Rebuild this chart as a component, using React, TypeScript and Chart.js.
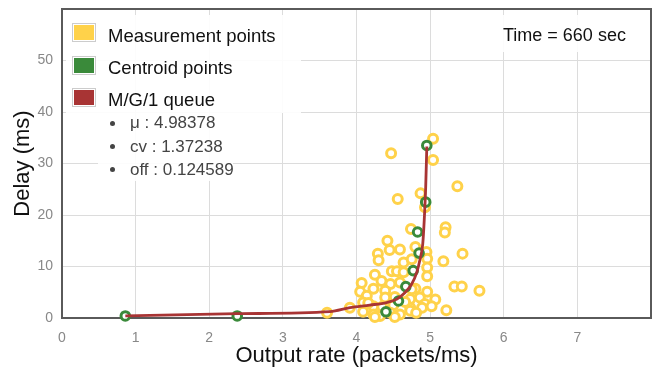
import React, { useEffect, useRef } from "react";
import { Chart, registerables } from "chart.js";

Chart.register(...registerables);

// ---- data ----
const measurementX = [
  5.04, 4.47, 5.04, 5.37, 4.87, 4.56, 4.93, 4.74, 5.21, 5.2, 4.42, 4.45, 4.59, 4.29, 4.8, 4.95,
  5.44, 4.3, 4.64, 4.75, 4.96, 5.18, 4.96, 4.25, 4.48, 4.55, 4.64, 4.96, 4.07, 4.34, 4.46, 4.59,
  4.05, 4.23, 4.39, 4.8, 4.96, 5.33, 5.43, 5.67, 4.14, 4.39, 4.73, 4.86, 5.07, 3.91, 4.23, 4.5,
  4.73, 4.93, 5.02, 4.09, 4.23, 4.32, 4.46, 4.59, 4.73, 4.89, 5.22, 4.25, 3.6, 4.75, 4.09, 4.52,
  4.66, 4.81, 4.35, 4.52, 4.16,
];
const measurementY = [
  34.8, 32.0, 30.7, 25.6, 24.2, 23.1, 21.5, 17.3, 17.6, 16.6, 15.0, 13.2, 13.3, 12.5, 13.8, 12.8,
  12.5, 11.2, 10.8, 11.4, 11.5, 11.0, 9.8, 8.4, 9.1, 9.1, 8.9, 8.1, 6.8, 7.2, 6.6, 6.9,
  5.1, 5.7, 5.3, 5.7, 5.1, 6.1, 6.1, 5.3, 4.3, 4.0, 3.7, 4.0, 3.6, 2.0, 2.3, 2.5,
  2.0, 2.7, 2.3, 1.2, 0.7, 0.4, 1.0, 0.7, 1.4, 2.0, 1.5, 0.2, 1.0, 5.6, 3.0, 4.1,
  3.1, 1.0, 2.2, 0.2, 2.9,
];
const centroidX = [0.86, 2.38, 4.4, 4.57, 4.67, 4.77, 4.85, 4.83, 4.94, 4.955];
const centroidY = [0.4, 0.4, 1.2, 3.3, 6.1, 9.2, 12.6, 16.7, 22.5, 33.5];
const queueX = [0.86, 2.38, 3.64, 3.91, 4.18, 4.41, 4.55, 4.66, 4.75, 4.82, 4.86, 4.9, 4.92, 4.94, 4.955];
const queueY = [0.4, 0.84, 1.23, 2.0, 2.5, 3.0, 3.7, 4.95, 6.6, 8.9, 11.2, 14.4, 19.0, 25.5, 33.3];

const xMin = 0;
const xMax = 8;
const xStep = 1;
const yMin = 0;
const yMax = 60;
const yStep = 10;

const legendLabels = ["Measurement points", "Centroid points", "M/G/1 queue"];
const legendColors = ["#ffd24a", "#3a8a3a", "#a83434"];
const queueParams = ["\u03bc : 4.98378", "cv : 1.37238", "off : 0.124589"];
const timeLabel = "Time = 660 sec";
const xTitle = "Output rate (packets/ms)";
const yTitle = "Delay (ms)";

const FONT = "'Liberation Sans', Arial, Helvetica, sans-serif";

const toPoints = (xs: number[], ys: number[]) => xs.map((x, i) => ({ x, y: ys[i] }));

const borderPlugin = {
  id: "plotBorder",
  beforeDatasetsDraw(chart: any) {
    const { ctx, chartArea } = chart;
    const { left, top, right, bottom } = chartArea;
    ctx.save();
    ctx.strokeStyle = "#5a5a5a";
    ctx.lineWidth = 2;
    ctx.strokeRect(left, top, right - left, bottom - top);
    ctx.restore();
  },
};

const zeroPad = (scale: any) => {
  scale.paddingTop = 0;
  scale.paddingBottom = 0;
  scale.paddingLeft = 0;
  scale.paddingRight = 0;
};

export default function App() {
  const canvasRef = useRef<HTMLCanvasElement | null>(null);

  useEffect(() => {
    if (!canvasRef.current) return;
    const chart = new Chart(canvasRef.current, {
      type: "scatter",
      data: {
        datasets: [
          {
            label: legendLabels[2],
            type: "line",
            data: toPoints(queueX, queueY),
            borderColor: legendColors[2],
            borderWidth: 2.8,
            pointRadius: 0,
            showLine: true,
            fill: false,
            cubicInterpolationMode: "monotone",
            order: 0,
            clip: false,
          } as any,
          {
            label: legendLabels[1],
            data: toPoints(centroidX, centroidY),
            borderColor: legendColors[1],
            backgroundColor: "#ffffff",
            pointRadius: 4.3,
            pointBorderWidth: 3,
            order: 1,
            clip: false,
          } as any,
          {
            label: legendLabels[0],
            data: toPoints(measurementX, measurementY),
            borderColor: legendColors[0],
            backgroundColor: "#ffffff",
            pointRadius: 4.5,
            pointBorderWidth: 3,
            order: 2,
            clip: false,
          } as any,
        ],
      },
      options: {
        responsive: false,
        animation: false,
        events: [],
        layout: { padding: { left: 0, right: 8, top: 9, bottom: 0 } },
        plugins: {
          legend: { display: false },
          tooltip: { enabled: false },
          title: { display: false },
        },
        scales: {
          x: {
            type: "linear",
            min: xMin,
            max: xMax,
            border: { display: false },
            grid: { color: "#dcdcdc", lineWidth: 1, drawTicks: false },
            ticks: {
              stepSize: xStep,
              padding: 12,
              color: "#888",
              font: { family: FONT, size: 14 },
              callback: (v: any) => (v >= xMax ? "" : String(v)),
              maxRotation: 0,
            },
            title: {
              display: true,
              text: xTitle,
              color: "#111",
              font: { family: FONT, size: 22 },
              padding: { top: 0, bottom: 3 },
            },
            afterFit: (scale: any) => {
              scale.height = 54;
              zeroPad(scale);
            },
          },
          y: {
            type: "linear",
            min: yMin,
            max: yMax,
            border: { display: false },
            grid: { color: "#dcdcdc", lineWidth: 1, drawTicks: false },
            ticks: {
              stepSize: yStep,
              padding: 9,
              color: "#888",
              font: { family: FONT, size: 14 },
              callback: (v: any) => (v >= yMax ? "" : String(v)),
            },
            title: {
              display: true,
              text: yTitle,
              color: "#111",
              font: { family: FONT, size: 22 },
              padding: { top: 10, bottom: 0 },
            },
            afterFit: (scale: any) => {
              scale.width = 62;
              zeroPad(scale);
            },
          },
        },
      },
      plugins: [borderPlugin],
    });
    return () => chart.destroy();
  }, []);

  const legendTextTops = [26.3, 57.6, 89.6];
  const swatchTops = [23, 56, 88];
  const paramTops = [113.4, 136.8, 159.8];

  return (
    <div style={{ position: "fixed", left: 0, top: 0, width: 659, height: 372, background: "#fff" }}>
      <canvas ref={canvasRef} width={659} height={372} style={{ position: "absolute", left: 0, top: 0 }} />
      {/* legend background */}
      <div style={{ position: "absolute", left: 66, top: 15, width: 235, height: 98, background: "rgba(255,255,255,0.9)" }} />
      <div style={{ position: "absolute", left: 98, top: 113, width: 135, height: 68, background: "rgba(255,255,255,0.9)" }} />
      {legendLabels.map((lab, i) => (
        <React.Fragment key={lab}>
          <div
            style={{
              position: "absolute",
              left: 72,
              top: swatchTops[i],
              width: 20,
              height: 15,
              border: "1px solid #ccc",
              padding: 1,
              background: "#fff",
            }}
          >
            <div style={{ width: 20, height: 15, background: legendColors[i] }} />
          </div>
          <div
            style={{
              position: "absolute",
              left: 108,
              top: legendTextTops[i],
              fontFamily: FONT,
              fontSize: 18.5,
              lineHeight: "20px",
              color: "#111",
              whiteSpace: "nowrap",
            }}
          >
            {lab}
          </div>
        </React.Fragment>
      ))}
      {queueParams.map((p, i) => (
        <React.Fragment key={p}>
          <div
            style={{
              position: "absolute",
              left: 110,
              top: paramTops[i] + 7.5,
              width: 5,
              height: 5,
              borderRadius: "50%",
              background: "#444",
            }}
          />
          <div
            style={{
              position: "absolute",
              left: 130,
              top: paramTops[i],
              fontFamily: FONT,
              fontSize: 17,
              lineHeight: "20px",
              color: "#444",
              whiteSpace: "nowrap",
            }}
          >
            {p}
          </div>
        </React.Fragment>
      ))}
      <div style={{ position: "absolute", left: 496, top: 15, width: 144, height: 37, background: "rgba(255,255,255,0.9)" }} />
      <div
        style={{
          position: "absolute",
          left: 503,
          top: 24.5,
          fontFamily: FONT,
          fontSize: 18,
          lineHeight: "20px",
          color: "#111",
          whiteSpace: "nowrap",
        }}
      >
        {timeLabel}
      </div>
    </div>
  );
}
